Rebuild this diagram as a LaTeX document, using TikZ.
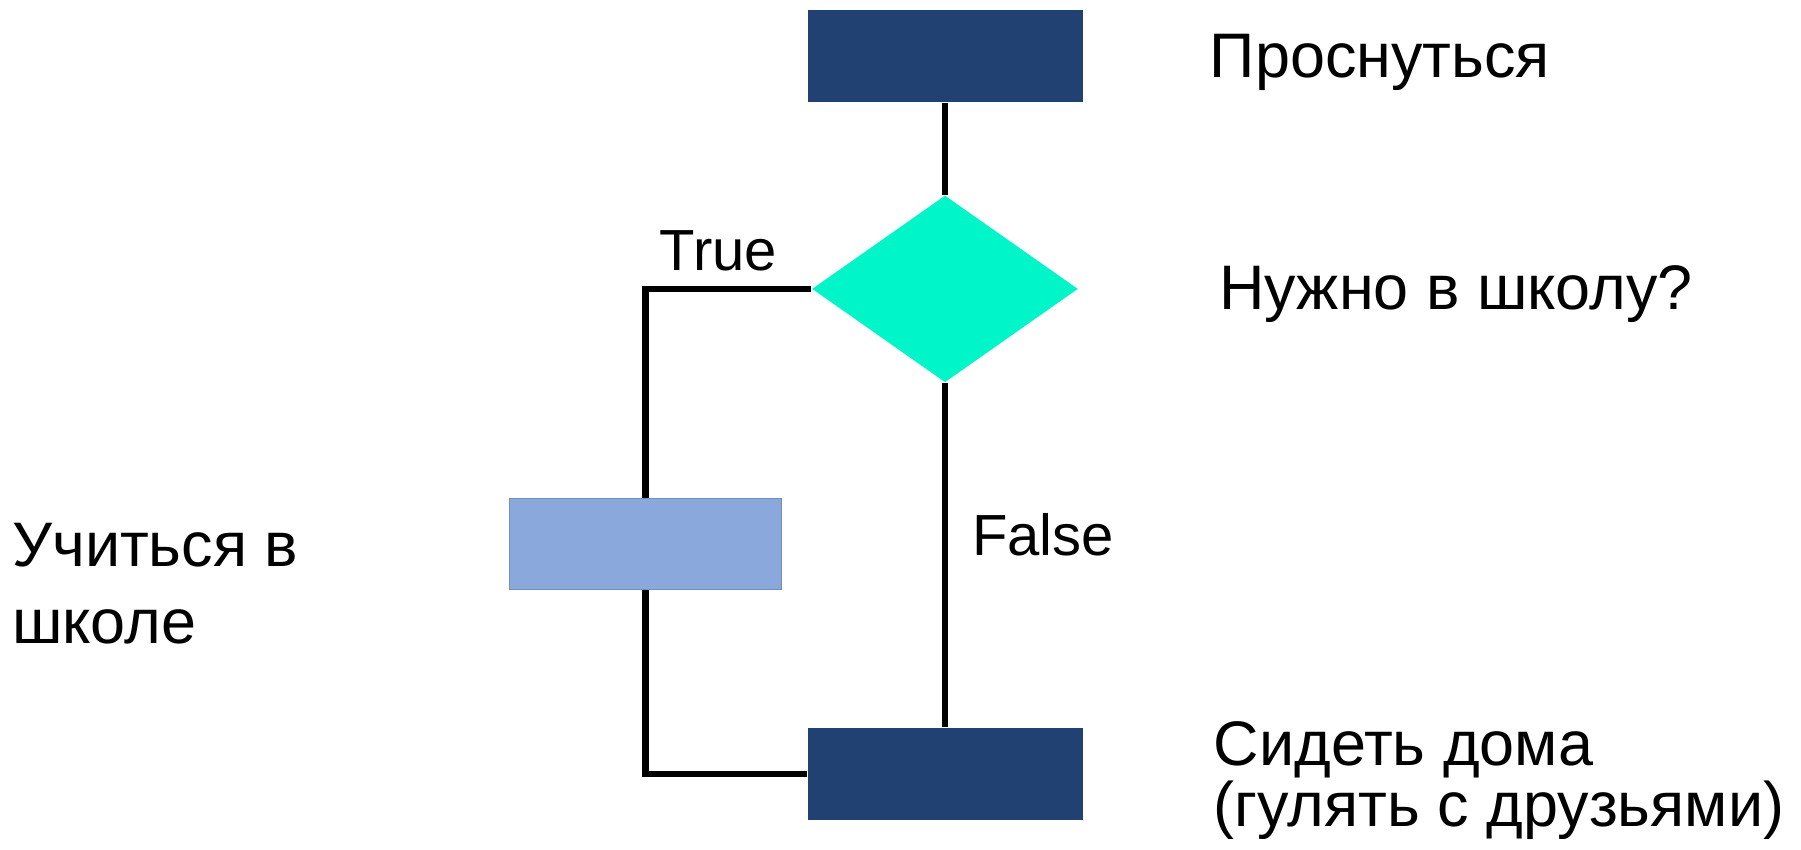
\documentclass[tikz,border=0pt]{standalone}
\usepackage{fontspec}
\setmainfont{Liberation Sans}
\usetikzlibrary{positioning,shapes.geometric}
\definecolor{darkbox}{RGB}{34,65,115}
\definecolor{lightbox}{RGB}{138,168,219}
\definecolor{lightedge}{RGB}{112,142,192}
\definecolor{turq}{RGB}{0,245,200}

\begin{document}
\begin{tikzpicture}[node distance=2.0em]
      \tikzset{
          action/.style={rectangle, fill=darkbox, inner sep=0pt, minimum width=2.75cm, minimum height=0.92cm},
          subaction/.style={rectangle, fill=lightbox, draw=lightedge, thin, inner sep=0pt, minimum width=2.72cm, minimum height=0.91cm},
          condition/.style={diamond, fill=turq, inner sep=0pt, minimum width=2.66cm, minimum height=1.87cm},
          caption/.style={inner sep=0pt, align=left, font=\fontsize{17.9}{21.9}\selectfont},
          branch/.style={inner sep=0pt, font=\fontsize{16.5}{18}\selectfont},
          myarrow/.style={draw, line width=1.8pt},
      }
      \useasboundingbox (0,0) rectangle (18.01,-8.5);

      \node[action] (wake) at (9.45,-0.56) {};
      \node[condition, below=0.92cm of wake] (ask) {};
      \node[subaction, below left=2.09cm and 0.29cm of ask.west] (study) {};
      \node[action, below=3.44cm of ask] (home) {};

      \node[caption, right=1.26cm of wake, yshift=-0.06cm] (wakelabel) {Проснуться};
      \node[caption, right=1.4cm of ask, yshift=-0.05cm] (asklabel) {Нужно в школу?};
      \node[caption, left=2.1cm of study, yshift=-0.4cm] (studylabel) {Учиться в\\школе};
      \node[caption, right=1.3cm of home, yshift=-0.07cm, font=\fontsize{17.9}{17.5}\selectfont] (homelabel) {Сидеть дома\\(гулять с друзьями)};

      \path[myarrow] (wake.south) -- (ask.north);
      \path[myarrow] (ask.west) -| node[branch, above=0.15cm, pos=0.28] {True} (study.north);
      \path[myarrow] (ask.south) -- node[branch, right=0.24cm, pos=0.44] {False} (home.north);
      \path[myarrow] (study.south) |- (home.west);

      \end{tikzpicture}
\end{document}
